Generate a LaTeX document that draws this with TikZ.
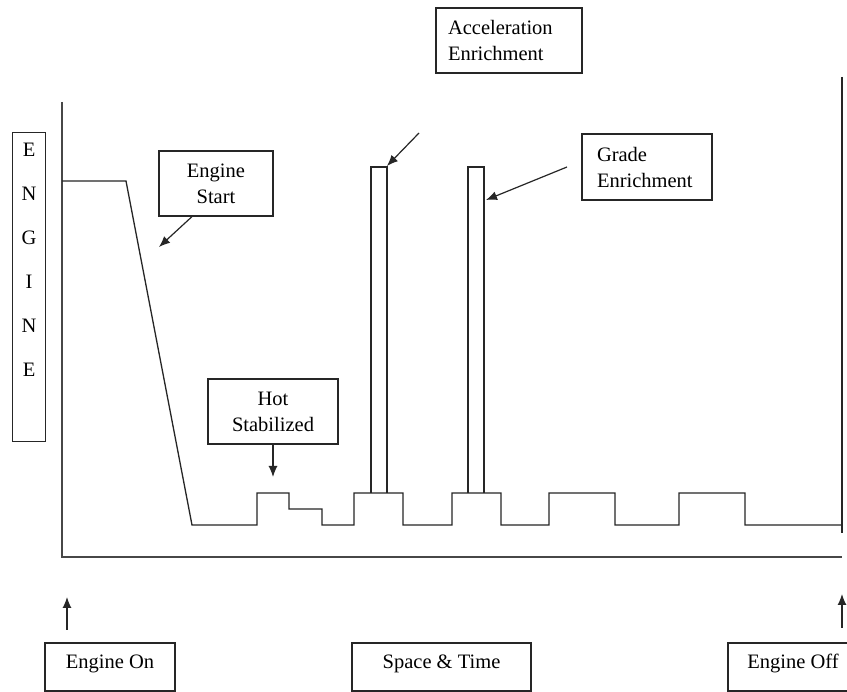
\documentclass[tikz,border=0pt]{standalone}
\usepackage{fontspec}
\setmainfont{Liberation Serif}
\usetikzlibrary{arrows.meta}
\tikzset{
  lbl/.style={draw=black!85, line width=1.2pt, font=\fontsize{20.5}{26}\selectfont, inner sep=0pt},
  ptr/.style={-{Latex[length=11pt,width=9pt]}, line width=1.2pt, draw=black!85},
  sig/.style={line width=1.3pt, draw=black!85},
  axis/.style={line width=1.7pt, draw=black!72},
  botbox/.style={lbl, minimum height=48pt, text height=14pt, text depth=12pt, inner ysep=11pt}
}
\begin{document}
\begin{tikzpicture}[x=1pt,y=-1pt]
\clip (0,0) rectangle (847,692);
\fill[white] (0,0) rectangle (847,692);
% axes
\coordinate (o) at (62,557);
\coordinate (ytop) at (62,102);
\coordinate (xend) at (842,557);
\draw[axis] (ytop) -- (o) -- (xend);
\coordinate (rtop) at (842,77);
\coordinate (rbot) at (842,533);
\draw[sig] (rtop) -- (rbot);
% ENGINE box
\node[lbl, minimum width=33pt, minimum height=309pt, anchor=north west] (engine) at (12,132) {};
\node[anchor=north, align=center, font=\fontsize{20.5}{44}\selectfont, inner sep=0pt] (engtxt) at ([yshift=-11pt]engine.north) {E\\N\\G\\I\\N\\E};
% signal
\draw[sig] (62,181) -- (126,181) -- (192,525) -- (257,525) -- (257,493) -- (289,493)
  -- (289,509) -- (322,509) -- (322,525) -- (354,525) -- (354,493) -- (403,493)
  -- (403,525) -- (452,525) -- (452,493) -- (501,493) -- (501,525) -- (549,525)
  -- (549,493) -- (615,493) -- (615,525) -- (679,525) -- (679,493) -- (745,493)
  -- (745,525) -- (842,525);
\draw[sig] (371,493) -- (371,167) -- (387,167) -- (387,493);
\draw[sig] (468,493) -- (468,167) -- (484,167) -- (484,493);
% labels
\node[lbl, minimum width=114pt, minimum height=65pt, align=center] (es) at (216,183.5) {Engine\\Start};
\node[lbl, minimum width=130pt, minimum height=65pt, align=center] (hs) at (273,411.5) {Hot\\Stabilized};
\node[lbl, text width=122pt, inner xsep=12pt, minimum height=65pt, align=left] (ae) at (509,40.5) {Acceleration\\Enrichment};
\node[lbl, text width=100pt, inner xsep=15pt, minimum height=66pt, align=left] (ge) at (647,167) {Grade\\Enrichment};
\node[botbox, minimum width=130pt] (eon) at (110,667) {Engine On};
\node[botbox, minimum width=179pt] (st) at (441.5,667) {Space \& Time};
\node[botbox, minimum width=130pt] (eoff) at (793,667) {Engine Off};
% pointers
\coordinate (esTip) at (159,247);
\draw[ptr] ([xshift=-24pt]es.south) -- (esTip);
\coordinate (hsTip) at (273,477);
\draw[ptr] (hs.south) -- (hsTip);
\coordinate (aeStart) at (419,133);
\coordinate (aeTip) at (387,166);
\draw[ptr] (aeStart) -- (aeTip);
\coordinate (geStart) at (567,167);
\coordinate (geTip) at (486,200);
\draw[ptr] (geStart) -- (geTip);
\coordinate (eonStart) at (67,630);
\coordinate (eonTip) at (67,597);
\draw[ptr] (eonStart) -- (eonTip);
\coordinate (eoffStart) at (842,628);
\coordinate (eoffTip) at (842,594);
\draw[ptr] (eoffStart) -- (eoffTip);
\end{tikzpicture}
\end{document}
